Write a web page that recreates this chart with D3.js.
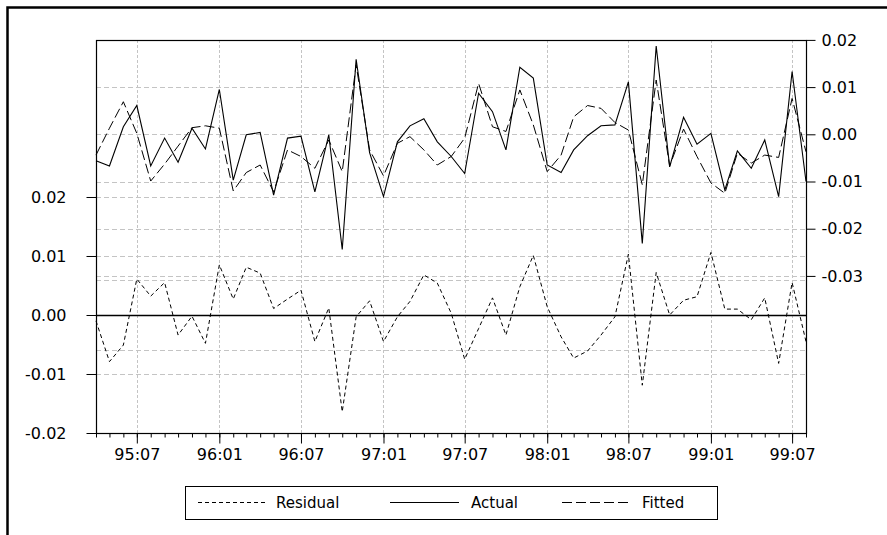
<!DOCTYPE html>
<html>
<head>
<meta charset="utf-8">
<script src="https://cdn.jsdelivr.net/npm/d3@7"></script>
<style>
  html, body { margin: 0; padding: 0; background: #fff; }
  svg { display: block; }
</style>
</head>
<body>
<svg id="chart" width="887" height="535"></svg>
<script>
// ---- data (monthly, 1995:04 .. 1999:08) ----
const startMonth = new Date(1995, 3, 1);
const endMonth = new Date(1999, 7, 1);
const actual = [-0.0056,-0.0067,0.0016,0.0061,-0.0067,-0.0008,-0.0059,0.0013,-0.0031,0.0095,
  -0.0097,-0.0001,0.0004,-0.0129,-0.0008,-0.0004,-0.0122,-0.0001,-0.0244,0.0159,
  -0.0039,-0.0132,-0.0016,0.0018,0.0033,-0.0016,-0.0047,-0.0083,0.0087,0.0048,
  -0.0033,0.0142,0.0119,-0.0065,-0.0081,-0.0033,-0.0003,0.0018,0.0020,0.0111,
  -0.0231,0.0187,-0.0069,0.0036,-0.0021,0.0002,-0.0118,-0.0035,-0.0072,-0.0012,
  -0.0132,0.0133,-0.0100];
const fitted = [-0.0044,0.0013,0.0069,0.0002,-0.0099,-0.0063,-0.0025,0.0014,0.0018,0.0013,
  -0.0120,-0.0081,-0.0065,-0.0122,-0.0033,-0.0047,-0.0072,-0.0012,-0.0079,0.0147,
  -0.0033,-0.0088,-0.0019,-0.0005,-0.0033,-0.0065,-0.0047,-0.0008,0.0108,0.0016,
  0.0006,0.0094,0.0020,-0.0079,-0.0044,0.0037,0.0061,0.0055,0.0025,0.0009,
  -0.0107,0.0115,-0.0067,0.0011,-0.0047,-0.0103,-0.0125,-0.0040,-0.0061,-0.0044,
  -0.0049,0.0076,-0.0037];
const residual = [-0.0010,-0.0079,-0.0051,0.0061,0.0032,0.0055,-0.0034,-0.0002,-0.0048,0.0085,
  0.0027,0.0081,0.0071,0.0011,0.0027,0.0042,-0.0045,0.0012,-0.0164,-0.0003,
  0.0024,-0.0045,-0.0003,0.0023,0.0068,0.0054,0.0003,-0.0075,-0.0023,0.0029,
  -0.0034,0.0048,0.0101,0.0014,-0.0037,-0.0073,-0.0061,-0.0034,-0.0003,0.0103,
  -0.0119,0.0072,0.0000,0.0025,0.0031,0.0106,0.0010,0.0010,-0.0008,0.0029,
  -0.0082,0.0055,-0.0045];
const leftTicks = [-0.02, -0.01, 0.00, 0.01, 0.02];
const rightTicks = [-0.03, -0.02, -0.01, 0.00, 0.01, 0.02];
const seBand = [-0.006, 0.006];
const xTickLabels = ["95:07","96:01","96:07","97:01","97:07","98:01","98:07","99:01","99:07"];
const legendLabels = ["Residual", "Actual", "Fitted"];

// ---- layout ----
const L = 96, R = 806, T = 40, B = 433;
const months = d3.timeMonth.range(startMonth, d3.timeMonth.offset(endMonth, 1));
const svg = d3.select("#chart");
const font = "'DejaVu Sans', Verdana, sans-serif";

const x = d3.scaleTime().domain([startMonth, endMonth]).range([L, R]);
const yL = d3.scaleLinear().domain([-0.02, 0.04661]).range([B, T]);
const yR = d3.scaleLinear().domain([-0.06328, 0.01998]).range([B, T]);
const fmt = v => (Math.abs(v) < 1e-9 ? 0 : v).toFixed(2);

// outer frame
svg.append("rect").attr("x", 7.5).attr("y", 7.5).attr("width", 920).attr("height", 600)
  .attr("fill", "none").attr("stroke", "#000").attr("stroke-width", 2.5);

const grid = svg.append("g").attr("stroke", "#c4c4c4").attr("stroke-width", 1).attr("fill", "none");
// vertical gridlines at major ticks
const majorMonths = months.filter(d => xTickLabels.includes(d3.timeFormat("%y:%m")(d)));
grid.selectAll(".vg").data(majorMonths).join("line")
  .attr("x1", d => Math.round(x(d)) + 0.5).attr("x2", d => Math.round(x(d)) + 0.5)
  .attr("y1", T).attr("y2", B).attr("stroke-dasharray", "3,2");
// horizontal gridlines (left axis)
grid.selectAll(".hl").data(leftTicks.filter(v => v !== 0 && v !== -0.02)).join("line")
  .attr("x1", L).attr("x2", R)
  .attr("y1", d => Math.round(yL(d)) + 0.5).attr("y2", d => Math.round(yL(d)) + 0.5)
  .attr("stroke-dasharray", "5,3");
// horizontal gridlines (right axis)
grid.selectAll(".hr").data(rightTicks.filter(v => v !== 0.02)).join("line")
  .attr("x1", L).attr("x2", R)
  .attr("y1", d => Math.round(yR(d)) + 0.5).attr("y2", d => Math.round(yR(d)) + 0.5)
  .attr("stroke-dasharray", "5,3");
// +/- S.E. lines
grid.selectAll(".se").data(seBand).join("line")
  .attr("x1", L).attr("x2", R)
  .attr("y1", d => Math.round(yL(d)) + 0.5).attr("y2", d => Math.round(yL(d)) + 0.5)
  .attr("stroke-dasharray", "5,3");

// zero line for residual
svg.append("line").attr("x1", L).attr("x2", R)
  .attr("y1", Math.round(yL(0)) + 0.5).attr("y2", Math.round(yL(0)) + 0.5)
  .attr("stroke", "#000").attr("stroke-width", 1.6);

// series
const lineL = d3.line().x((d, i) => x(months[i])).y(d => yL(d));
const lineR = d3.line().x((d, i) => x(months[i])).y(d => yR(d));
svg.append("path").datum(residual).attr("d", lineL).attr("fill", "none")
  .attr("stroke", "#000").attr("stroke-width", 1).attr("stroke-dasharray", "4,3");
svg.append("path").datum(fitted).attr("d", lineR).attr("fill", "none")
  .attr("stroke", "#000").attr("stroke-width", 1).attr("stroke-dasharray", "10,4");
svg.append("path").datum(actual).attr("d", lineR).attr("fill", "none")
  .attr("stroke", "#000").attr("stroke-width", 1.1);

// plot frame
svg.append("rect").attr("x", L + 0.5).attr("y", T + 0.5).attr("width", R - L).attr("height", B - T)
  .attr("fill", "none").attr("stroke", "#000").attr("stroke-width", 1.2);

// left axis
const gL = svg.append("g").attr("transform", `translate(${L + 0.5},0)`)
  .call(d3.axisLeft(yL).tickValues(leftTicks).tickFormat(fmt).tickSize(10).tickPadding(20));
// right axis
const gR = svg.append("g").attr("transform", `translate(${R + 0.5},0)`)
  .call(d3.axisRight(yR).tickValues(rightTicks).tickFormat(fmt).tickSize(9).tickPadding(6));
// bottom axis: minor monthly ticks + major labelled ticks
const gB = svg.append("g").attr("transform", `translate(0,${B + 0.5})`)
  .call(d3.axisBottom(x).tickValues(months).tickFormat("").tickSize(4).tickSizeOuter(0));
const gB2 = svg.append("g").attr("transform", `translate(0,${B + 0.5})`)
  .call(d3.axisBottom(x).tickValues(majorMonths).tickFormat(d3.timeFormat("%y:%m")).tickSize(10).tickPadding(5).tickSizeOuter(0));
[gL, gR, gB, gB2].forEach(g => {
  g.select(".domain").remove();
  g.selectAll("line").attr("stroke", "#000").attr("stroke-width", 1);
  g.selectAll("text").attr("fill", "#000").style("font-family", font).style("font-size", "16px");
});

// legend
const lg = svg.append("g");
lg.append("rect").attr("x", 185.5).attr("y", 486.5).attr("width", 532).attr("height", 33)
  .attr("fill", "#fff").attr("stroke", "#000").attr("stroke-width", 1);
const legItems = [
  {label: legendLabels[0], x1: 198, x2: 266, tx: 276, dash: "4,3", w: 1},
  {label: legendLabels[1], x1: 390, x2: 459, tx: 471, dash: null, w: 1.1},
  {label: legendLabels[2], x1: 562, x2: 632, tx: 642, dash: "10,4", w: 1}
];
legItems.forEach(it => {
  const ln = lg.append("line").attr("x1", it.x1).attr("x2", it.x2).attr("y1", 502.5).attr("y2", 502.5)
    .attr("stroke", "#000").attr("stroke-width", it.w);
  if (it.dash) ln.attr("stroke-dasharray", it.dash);
  lg.append("text").attr("x", it.tx).attr("y", 508).text(it.label)
    .style("font-family", font).style("font-size", "15px").attr("fill", "#000");
});
</script>
</body>
</html>
